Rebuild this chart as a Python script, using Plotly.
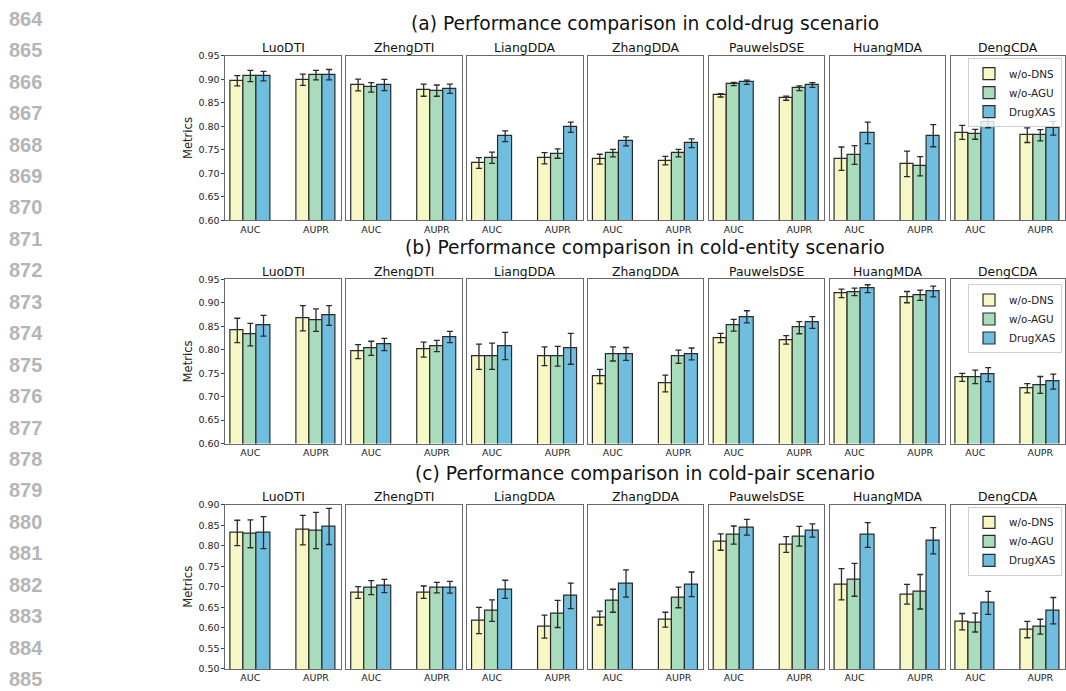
import plotly.graph_objects as go

# ---------------- data ----------------
scenario_titles = [
    "(a) Performance comparison in cold-drug scenario",
    "(b) Performance comparison in cold-entity scenario",
    "(c) Performance comparison in cold-pair scenario",
]
datasets = ["LuoDTI", "ZhengDTI", "LiangDDA", "ZhangDDA", "PauwelsDSE", "HuangMDA", "DengCDA"]
metrics = ["AUC", "AUPR"]
variants = ["w/o-DNS", "w/o-AGU", "DrugXAS"]
variant_colors = ["#f6f7c4", "#a9dcbd", "#6fbee0"]
line_numbers = list(range(864, 886))

# values per variant: [dataset1 AUC, dataset1 AUPR, dataset2 AUC, ...]
cold_drug_dns = [0.897, 0.899, 0.888, 0.877, 0.722, 0.732, 0.730, 0.727, 0.866, 0.860, 0.731, 0.720, 0.787, 0.781]
cold_drug_dns_err = [0.011, 0.012, 0.0125, 0.013, 0.0115, 0.012, 0.0105, 0.009, 0.0035, 0.0045, 0.025, 0.027, 0.015, 0.0155]
cold_drug_agu = [0.907, 0.909, 0.883, 0.876, 0.733, 0.742, 0.743, 0.743, 0.890, 0.881, 0.739, 0.715, 0.783, 0.781]
cold_drug_agu_err = [0.012, 0.010, 0.010, 0.012, 0.012, 0.010, 0.008, 0.008, 0.0035, 0.005, 0.020, 0.0205, 0.0105, 0.012]
cold_drug_xas = [0.907, 0.910, 0.888, 0.880, 0.779, 0.798, 0.768, 0.764, 0.894, 0.888, 0.786, 0.780, 0.809, 0.796]
cold_drug_xas_err = [0.010, 0.011, 0.012, 0.010, 0.0115, 0.011, 0.0097, 0.0094, 0.0045, 0.005, 0.023, 0.0235, 0.012, 0.0146]

cold_entity_dns = [0.841, 0.867, 0.796, 0.800, 0.785, 0.786, 0.743, 0.728, 0.825, 0.821, 0.920, 0.912, 0.741, 0.718]
cold_entity_dns_err = [0.026, 0.027, 0.015, 0.016, 0.027, 0.020, 0.015, 0.018, 0.010, 0.009, 0.009, 0.012, 0.0084, 0.0098]
cold_entity_agu = [0.832, 0.863, 0.803, 0.808, 0.786, 0.786, 0.791, 0.785, 0.852, 0.847, 0.923, 0.916, 0.742, 0.725]
cold_entity_agu_err = [0.024, 0.024, 0.015, 0.012, 0.028, 0.021, 0.015, 0.014, 0.0126, 0.013, 0.008, 0.011, 0.0144, 0.018]
cold_entity_xas = [0.851, 0.873, 0.811, 0.827, 0.808, 0.802, 0.791, 0.791, 0.870, 0.858, 0.930, 0.924, 0.747, 0.732]
cold_entity_xas_err = [0.022, 0.021, 0.013, 0.012, 0.029, 0.033, 0.0137, 0.0126, 0.013, 0.0126, 0.0084, 0.0116, 0.015, 0.016]

cold_pair_dns = [0.831, 0.838, 0.686, 0.687, 0.618, 0.603, 0.624, 0.620, 0.809, 0.803, 0.706, 0.682, 0.615, 0.596]
cold_pair_dns_err = [0.031, 0.036, 0.0144, 0.015, 0.032, 0.028, 0.017, 0.018, 0.020, 0.019, 0.038, 0.024, 0.020, 0.020]
cold_pair_agu = [0.829, 0.837, 0.698, 0.698, 0.642, 0.634, 0.666, 0.674, 0.826, 0.823, 0.717, 0.688, 0.613, 0.603]
cold_pair_agu_err = [0.034, 0.044, 0.017, 0.013, 0.026, 0.033, 0.028, 0.025, 0.022, 0.024, 0.040, 0.042, 0.023, 0.018]
cold_pair_xas = [0.832, 0.847, 0.702, 0.699, 0.694, 0.678, 0.708, 0.706, 0.845, 0.837, 0.826, 0.812, 0.661, 0.642]
cold_pair_xas_err = [0.039, 0.044, 0.016, 0.0144, 0.022, 0.031, 0.033, 0.030, 0.019, 0.016, 0.030, 0.032, 0.028, 0.032]

y_ranges = [(0.60, 0.95), (0.60, 0.95), (0.50, 0.90)]

scenario_values = [
    [(cold_drug_dns, cold_drug_dns_err), (cold_drug_agu, cold_drug_agu_err), (cold_drug_xas, cold_drug_xas_err)],
    [(cold_entity_dns, cold_entity_dns_err), (cold_entity_agu, cold_entity_agu_err), (cold_entity_xas, cold_entity_xas_err)],
    [(cold_pair_dns, cold_pair_dns_err), (cold_pair_agu, cold_pair_agu_err), (cold_pair_xas, cold_pair_xas_err)],
]

# ---------------- layout geometry (pixels) ----------------
W, H = 1066, 691
col_left0, col_step, col_w = 225.7, 120.95, 115.5
row_tops = [50.7, 277.7, 506.7]
row_h = 167.0
title_y = [18, 245, 475]
subtitle_y = [42.5, 269.5, 498.5]
legend_tops = [53, 283, 509]

FONT = "DejaVu Sans"
bar_w = 0.2
offsets = [-0.2, 0.0, 0.2]

fig = go.Figure()
layout_axes = {}
annotations = []

for r in range(3):
    for c, ds in enumerate(datasets):
        k = r * 7 + c + 1
        xa = "x" if k == 1 else f"x{k}"
        ya = "y" if k == 1 else f"y{k}"
        for v, (vals, errs) in enumerate(scenario_values[r]):
            yv = vals[2 * c:2 * c + 2]
            ye = errs[2 * c:2 * c + 2]
            xs = [i + offsets[v] for i in range(len(metrics))]
            legend_name = "legend" if r == 0 else f"legend{r + 1}"
            fig.add_trace(go.Bar(
                x=xs, y=yv, width=bar_w,
                name=variants[v],
                marker=dict(color=variant_colors[v], line=dict(color="#2a2a2a", width=1.2)),
                error_y=dict(type="data", array=ye, visible=True, color="#2a2a2a",
                             thickness=1.3, width=3),
                xaxis=xa, yaxis=ya, hoverinfo="skip",
                showlegend=(c == 6), legend=legend_name,
            ))
        x0 = (col_left0 + c * col_step) / W
        x1 = min((col_left0 + c * col_step + col_w) / W, 1.0)
        y1 = 1 - row_tops[r] / H
        y0 = 1 - (row_tops[r] + row_h) / H
        xname = "xaxis" if k == 1 else f"xaxis{k}"
        yname = "yaxis" if k == 1 else f"yaxis{k}"
        layout_axes[xname] = dict(
            domain=[x0, x1], anchor=ya,
            range=[-0.38, 1.38], tickvals=[0, 1], ticktext=metrics,
            showline=True, mirror=True, linecolor="#6a6a6a", linewidth=1,
            ticks="", tickfont=dict(family=FONT, size=9.5, color="#222"),
            showgrid=False, zeroline=False, fixedrange=True,
        )
        layout_axes[yname] = dict(
            domain=[y0, y1], anchor=xa,
            range=list(y_ranges[r]), dtick=0.05, tickformat=".2f",
            showline=True, mirror=True, linecolor="#6a6a6a", linewidth=1,
            showticklabels=(c == 0), ticks="outside" if c == 0 else "",
            ticklen=3, tickcolor="#444", tickwidth=0.8,
            tickfont=dict(family=FONT, size=9.5, color="#222"),
            showgrid=False, zeroline=False, fixedrange=True,
        )
        if c == 0:
            layout_axes[yname]["title"] = dict(text="Metrics", font=dict(family=FONT, size=11.6, color="#222"), standoff=3)
        annotations.append(dict(
            text=ds, x=(col_left0 + c * col_step + col_w / 2) / W, y=1 - subtitle_y[r] / H,
            xref="paper", yref="paper", xanchor="center", yanchor="middle", showarrow=False,
            font=dict(family=FONT, size=12.4, color="#111"),
        ))
    annotations.append(dict(
        text=scenario_titles[r], x=646 / W, y=1 - title_y[r] / H,
        xref="paper", yref="paper", xanchor="center", yanchor="middle", showarrow=False,
        font=dict(family=FONT, size=18.7, color="#111"),
    ))

for i, n in enumerate(line_numbers):
    annotations.append(dict(
        text=f"<b>{n}</b>", x=7 / W, y=1 - (13 + 31.95 * i) / H,
        xref="paper", yref="paper", xanchor="left", yanchor="middle", showarrow=False,
        font=dict(family="Liberation Sans", size=20, color="#b5b5b5"),
    ))

legend_style = dict(
    xanchor="right", yanchor="top", x=1063 / W,
    bgcolor="rgba(255,255,255,0.8)", bordercolor="#cfcfcf", borderwidth=1,
    font=dict(family=FONT, size=10.4, color="#222"), itemclick=False, itemdoubleclick=False,
    tracegroupgap=0, itemwidth=30,
)

fig.update_layout(
    width=W, height=H, margin=dict(l=0, r=0, t=0, b=0),
    paper_bgcolor="white", plot_bgcolor="white",
    barmode="overlay", bargap=0,
    annotations=annotations,
    legend=dict(**legend_style, y=1 - legend_tops[0] / H),
    legend2=dict(**legend_style, y=1 - legend_tops[1] / H),
    legend3=dict(**legend_style, y=1 - legend_tops[2] / H),
    **layout_axes,
)

fig.write_html(
    "out.html",
    config={"displayModeBar": False},
    post_script="document.body.style.margin='0';document.body.style.overflow='hidden';",
)
